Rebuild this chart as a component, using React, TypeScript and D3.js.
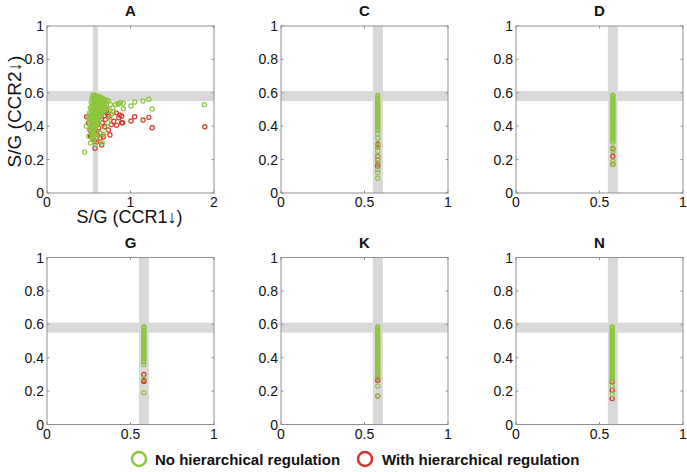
import React from "react";
import * as d3 from "d3";

// ---------- data ----------
const panelNames = ["A", "C", "D", "G", "K", "N"];
const yTicks = [0, 0.2, 0.4, 0.6, 0.8, 1];
const xTicksA = [0, 1, 2];
const xTicksOther = [0, 0.5, 1];
const bandLow = 0.55;
const bandHigh = 0.61;

// Panel A: [S/G CCR1, S/G CCR2]
const aNoHier: [number, number][] = [
  [0.55, 0.585], [0.57, 0.585], [0.59, 0.58], [0.61, 0.58], [0.63, 0.575], [0.65, 0.57], [0.67, 0.565], [0.69, 0.56], [0.72, 0.555],
  [0.54, 0.565], [0.56, 0.56], [0.58, 0.56], [0.6, 0.555], [0.62, 0.555], [0.64, 0.55], [0.66, 0.545], [0.68, 0.54], [0.71, 0.535],
  [0.53, 0.54], [0.55, 0.535], [0.57, 0.53], [0.59, 0.53], [0.61, 0.525], [0.63, 0.52], [0.65, 0.515], [0.67, 0.51], [0.7, 0.5],
  [0.52, 0.51], [0.54, 0.51], [0.56, 0.505], [0.58, 0.5], [0.6, 0.495], [0.62, 0.49], [0.64, 0.485], [0.66, 0.475],
  [0.51, 0.48], [0.53, 0.48], [0.55, 0.475], [0.57, 0.47], [0.59, 0.465], [0.61, 0.46], [0.63, 0.45],
  [0.5, 0.45], [0.52, 0.45], [0.54, 0.445], [0.56, 0.44], [0.58, 0.435], [0.6, 0.43], [0.62, 0.42],
  [0.51, 0.42], [0.53, 0.415], [0.55, 0.41], [0.57, 0.405], [0.59, 0.4],
  [0.52, 0.39], [0.54, 0.385], [0.56, 0.38], [0.58, 0.37],
  [0.55, 0.355], [0.57, 0.35],
  [0.56, 0.575], [0.6, 0.57], [0.64, 0.565], [0.68, 0.555], [0.7, 0.545], [0.74, 0.55],
  [0.565, 0.545], [0.605, 0.54], [0.645, 0.535], [0.685, 0.525], [0.545, 0.52], [0.585, 0.515], [0.625, 0.505],
  [0.665, 0.495], [0.535, 0.495], [0.575, 0.485], [0.615, 0.475], [0.645, 0.465], [0.525, 0.465], [0.565, 0.455],
  [0.605, 0.445], [0.515, 0.435], [0.555, 0.425], [0.595, 0.415], [0.535, 0.4], [0.575, 0.39], [0.545, 0.37],
  [0.53, 0.36], [0.56, 0.34], [0.54, 0.33],
  [0.45, 0.245], [0.47, 0.4], [0.49, 0.46], [0.5, 0.34], [0.52, 0.3], [0.55, 0.32], [0.58, 0.29], [0.6, 0.33],
  [0.63, 0.36], [0.66, 0.3], [0.68, 0.35], [0.7, 0.39], [0.73, 0.42], [0.75, 0.45], [0.74, 0.49], [0.77, 0.47],
  [0.79, 0.51], [0.8, 0.487], [0.82, 0.53], [0.85, 0.535], [0.88, 0.54], [0.858, 0.533], [0.914, 0.537],
  [0.914, 0.505], [1.006, 0.521], [1.05, 0.545], [1.15, 0.551], [1.22, 0.561], [1.26, 0.503], [1.884, 0.529],
  [0.76, 0.53], [0.72, 0.51],
];
const aWithHier: [number, number][] = [
  [0.475, 0.457], [0.495, 0.417], [0.515, 0.377], [0.53, 0.347], [0.555, 0.327], [0.575, 0.268], [0.595, 0.307],
  [0.55, 0.457], [0.56, 0.5], [0.61, 0.417], [0.63, 0.36], [0.655, 0.287], [0.675, 0.337], [0.69, 0.397],
  [0.735, 0.377], [0.754, 0.347], [0.7, 0.487], [0.71, 0.5], [0.72, 0.48], [0.73, 0.47], [0.68, 0.51], [0.74, 0.46],
  [0.7, 0.44], [0.66, 0.42], [0.62, 0.39], [0.58, 0.38], [0.6, 0.35], [0.64, 0.33], [0.51, 0.44], [0.54, 0.4],
  [0.57, 0.31], [0.52, 0.34], [0.834, 0.405], [0.874, 0.467], [0.894, 0.421], [0.894, 0.46], [0.906, 0.421],
  [0.86, 0.45], [0.8, 0.43], [0.77, 0.41], [1.006, 0.431], [1.05, 0.457], [1.15, 0.437], [1.22, 0.453],
  [1.26, 0.391], [1.89, 0.397], [0.83, 0.48], [0.65, 0.46], [0.6, 0.48],
];

// Column panels: CCR1 S/G is fixed, CCR2 S/G values
const colX = { C: 0.579, D: 0.58, G: 0.58, K: 0.579, N: 0.576 };
const cNoHier = [0.585, 0.575, 0.565, 0.555, 0.545, 0.535, 0.525, 0.515, 0.505, 0.495, 0.485, 0.475, 0.465, 0.455, 0.445, 0.435, 0.425, 0.415, 0.405, 0.395, 0.385, 0.375, 0.355, 0.33, 0.3, 0.28, 0.25, 0.225, 0.2, 0.18, 0.14, 0.122, 0.088];
const cWithHier = [0.29, 0.275, 0.22, 0.2, 0.175, 0.162];
const dNoHier = [0.585, 0.575, 0.565, 0.555, 0.545, 0.535, 0.525, 0.515, 0.505, 0.495, 0.485, 0.475, 0.465, 0.455, 0.445, 0.435, 0.425, 0.415, 0.405, 0.395, 0.385, 0.375, 0.365, 0.355, 0.345, 0.335, 0.325, 0.315, 0.305, 0.27, 0.25, 0.19, 0.17];
const dWithHier = [0.265, 0.22, 0.172];
const gNoHier = [0.585, 0.575, 0.565, 0.555, 0.545, 0.535, 0.525, 0.515, 0.505, 0.495, 0.485, 0.475, 0.465, 0.455, 0.445, 0.435, 0.425, 0.415, 0.405, 0.395, 0.385, 0.375, 0.36, 0.275, 0.19];
const gWithHier = [0.3, 0.265, 0.258];
const kNoHier = [0.585, 0.575, 0.565, 0.555, 0.545, 0.535, 0.525, 0.515, 0.505, 0.495, 0.485, 0.475, 0.465, 0.455, 0.445, 0.435, 0.425, 0.415, 0.405, 0.395, 0.385, 0.375, 0.365, 0.355, 0.345, 0.335, 0.325, 0.315, 0.305, 0.295, 0.28, 0.23, 0.17];
const kWithHier = [0.279, 0.265, 0.17];
const nNoHier = [0.585, 0.575, 0.565, 0.555, 0.545, 0.535, 0.525, 0.515, 0.505, 0.495, 0.485, 0.475, 0.465, 0.455, 0.445, 0.435, 0.425, 0.415, 0.405, 0.395, 0.385, 0.375, 0.365, 0.355, 0.345, 0.335, 0.325, 0.315, 0.305, 0.295, 0.285, 0.275, 0.265, 0.229, 0.179];
const nWithHier = [0.255, 0.205, 0.155];

const legendLabels = ["No hierarchical regulation", "With hierarchical regulation"];
const xAxisLabel = "S/G (CCR1\u2193)";
const yAxisLabel = "S/G (CCR2\u2193)";

// ---------- styles / layout ----------
const GREEN = "#8dc63f";
const RED = "#d9342b";
const BAND = "#d9d9d9";
const FRAME = "#8f8f8f";
const FONT = "'Liberation Sans', Arial, Helvetica, sans-serif";
const W = 687;
const H = 472;
const PW = 167;
const PH = 167;
const colLefts = [47, 281, 516];
const rowTops = [26, 257.5];

type Panel = {
  name: string;
  left: number;
  top: number;
  xMax: number;
  xTicks: number[];
  green: [number, number][];
  red: [number, number][];
};

const col = (x: number, ys: number[]): [number, number][] => ys.map((y) => [x, y]);

const panels: Panel[] = [
  { name: panelNames[0], left: colLefts[0], top: rowTops[0], xMax: 2, xTicks: xTicksA, green: aNoHier, red: aWithHier },
  { name: panelNames[1], left: colLefts[1], top: rowTops[0], xMax: 1, xTicks: xTicksOther, green: col(colX.C, cNoHier), red: col(colX.C, cWithHier) },
  { name: panelNames[2], left: colLefts[2], top: rowTops[0], xMax: 1, xTicks: xTicksOther, green: col(colX.D, dNoHier), red: col(colX.D, dWithHier) },
  { name: panelNames[3], left: colLefts[0], top: rowTops[1], xMax: 1, xTicks: xTicksOther, green: col(colX.G, gNoHier), red: col(colX.G, gWithHier) },
  { name: panelNames[4], left: colLefts[1], top: rowTops[1], xMax: 1, xTicks: xTicksOther, green: col(colX.K, kNoHier), red: col(colX.K, kWithHier) },
  { name: panelNames[5], left: colLefts[2], top: rowTops[1], xMax: 1, xTicks: xTicksOther, green: col(colX.N, nNoHier), red: col(colX.N, nWithHier) },
];

function PanelView({ p }: { p: Panel }) {
  const x = d3.scaleLinear().domain([0, p.xMax]).range([p.left, p.left + PW]);
  const y = d3.scaleLinear().domain([0, 1]).range([p.top + PH, p.top]);
  const fmt = (v: number) => String(v);
  return (
    <g>
      <text x={p.left + PW / 2} y={p.top - 10} textAnchor="middle" fontFamily={FONT} fontWeight="bold" fontSize={15} fill="#111">
        {p.name}
      </text>
      {/* grey bands */}
      <rect x={x(0)} y={y(bandHigh)} width={PW} height={y(bandLow) - y(bandHigh)} fill={BAND} />
      <rect x={x(bandLow)} y={y(1)} width={x(bandHigh) - x(bandLow)} height={PH} fill={BAND} />
      {/* points */}
      {p.red.map((d, i) => (
        <circle key={"r" + i} cx={x(d[0])} cy={y(d[1])} r={2.1} fill="none" stroke={RED} strokeWidth={1.2} />
      ))}
      {p.green.map((d, i) => (
        <circle key={"g" + i} cx={x(d[0])} cy={y(d[1])} r={2.1} fill="none" stroke={GREEN} strokeWidth={1.2} />
      ))}
      {/* frame */}
      <rect x={p.left} y={p.top} width={PW} height={PH} fill="none" stroke={FRAME} strokeWidth={1} />
      {/* ticks */}
      {yTicks.map((t) => (
        <g key={"y" + t}>
          <line x1={p.left} x2={p.left + 2.5} y1={y(t)} y2={y(t)} stroke={FRAME} />
          <line x1={p.left + PW - 2.5} x2={p.left + PW} y1={y(t)} y2={y(t)} stroke={FRAME} />
          <text x={p.left - 3} y={y(t) + 5} textAnchor="end" fontFamily={FONT} fontSize={14} fill="#111">
            {fmt(t)}
          </text>
        </g>
      ))}
      {p.xTicks.map((t) => (
        <g key={"x" + t}>
          <line x1={x(t)} x2={x(t)} y1={p.top + PH} y2={p.top + PH - 2.5} stroke={FRAME} />
          <line x1={x(t)} x2={x(t)} y1={p.top} y2={p.top + 2.5} stroke={FRAME} />
          <text x={x(t)} y={p.top + PH + 14} textAnchor="middle" fontFamily={FONT} fontSize={14} fill="#111">
            {fmt(t)}
          </text>
        </g>
      ))}
    </g>
  );
}

export default function App() {
  const a = panels[0];
  return (
    <svg width={W} height={H} viewBox={`0 0 ${W} ${H}`} style={{ position: "absolute", left: 0, top: 0, background: "#fff" }}>
      <rect x={0} y={0} width={W} height={H} fill="#fff" />
      {panels.map((p) => (
        <PanelView key={p.name} p={p} />
      ))}
      <text x={a.left + PW / 2 - 1} y={a.top + PH + 30} textAnchor="middle" fontFamily={FONT} fontSize={18} fill="#111">
        {xAxisLabel}
      </text>
      <text
        transform={`translate(${a.left - 26},${a.top + PH / 2 + 2}) rotate(-90)`}
        textAnchor="middle"
        fontFamily={FONT}
        fontSize={19}
        fill="#111"
      >
        {yAxisLabel}
      </text>
      {/* legend */}
      <circle cx={139} cy={459} r={7} fill="none" stroke={GREEN} strokeWidth={2.5} />
      <text x={155} y={464.5} fontFamily={FONT} fontWeight="bold" fontSize={15} fill="#111">
        {legendLabels[0]}
      </text>
      <circle cx={365} cy={459} r={7} fill="none" stroke={RED} strokeWidth={2.5} />
      <text x={382} y={464.5} fontFamily={FONT} fontWeight="bold" fontSize={15} fill="#111">
        {legendLabels[1]}
      </text>
    </svg>
  );
}
